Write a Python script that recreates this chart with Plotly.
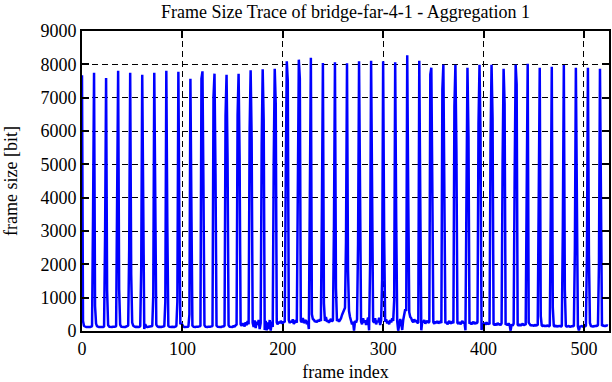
import plotly.graph_objects as go

# I-frame (every 12th frame) sizes
peak = [7670, 7750, 7590, 7810, 7750, 7690, 7750, 7810, 7780, 7570,
        7790, 7720, 7690, 7720, 7820, 7850, 7870, 8090, 8140, 8200,
        8040, 8060, 8030, 8090, 8110, 8090, 8060, 8275, 8110, 7900,
        7990, 7990, 7900, 7990, 7990, 7870, 7990, 8020, 7900, 7930,
        7980, 7900, 7900, 7870]
# frame just before each I-frame
pre = [None, 3440, 2880, 2940, 2430, 1885, 1080, 880, 880, 500,
       7570, 7020, 6450, 6490, 6070, 5590, 5085, 4680, 4740, 4230,
       3660, 3130, 2680, 2580, 1975, 1555, 920, 600, 250, 7700,
       7250, 6740, 6140, 6220, 5700, 5085, 4590, 4090, 4030, 3510,
       3010, 2460, 2300, 2025]
# frame just after each I-frame
post = [300, 750, 1220, 1250, 1705, 2215, 2740, 3210, 3280, 3630,
        4260, 4710, 5190, 5200, 5770, 6300, 6820, 7490, 7570, 500,
        830, 1280, 1835, 1890, 2340, 2880, 3360, 4060, 3910, 4280,
        4840, 5385, 5850, 5920, 6400, 6820, 7390, 250, 450, 700,
        1250, 1775, 2300, 2275]
# remaining frames of each group (frames 12k+2 .. 12k+10)
rest = [
    [150, 130, 120, 120, 130, 120, 120, 130, 140],
    [220, 140, 120, 120, 120, 130, 120, 120, 130],
    [180, 130, 120, 120, 120, 130, 120, 130, 140],
    [190, 130, 120, 130, 120, 120, 130, 140, 160],
    [250, 160, 130, 120, 130, 120, 130, 120, 140],
    [60, 200, 130, 120, 120, 130, 120, 140, 150],
    [190, 140, 120, 130, 120, 120, 130, 130, 140],
    [150, 130, 120, 120, 130, 120, 120, 130, 150],
    [200, 240, 150, 130, 120, 120, 130, 120, 130],
    [160, 130, 120, 120, 130, 120, 130, 140, 150],
    [170, 130, 120, 120, 130, 120, 130, 140, 150],
    [160, 130, 120, 130, 120, 120, 140, 130, 160],
    [170, 130, 130, 140, 120, 150, 130, 170, 190],
    [200, 160, 230, 180, 140, 260, 170, 300, 200],
    [250, 120, 320, 90, 280, 180, 330, 60, 240],
    [30, 300, 20, 260, 60, 330, 10, 280, 120],
    [260, 200, 280, 230, 300, 250, 220, 280, 260],
    [330, 240, 300, 260, 350, 210, 280, 320, 250],
    [300, 260, 390, 240, 280, 330, 200, 300, 60],
    [350, 340, 280, 300, 260, 330, 290, 350, 300],
    [300, 420, 280, 320, 250, 310, 360, 280, 330],
    [300, 350, 280, 330, 380, 480, 560, 650, 700],
    [600, 420, 330, 200, 280, 10, 300, 250, 350],
    [280, 200, 380, 260, 320, 180, 280, 400, 20],
    [300, 250, 380, 200, 300, 260, 400, 180, 320],
    [280, 350, 230, 300, 200, 330, 260, 380, 300],
    [300, 10, 280, 360, 250, 30, 330, 500, 650],
    [560, 420, 380, 300, 260, 350, 280, 320, 250],
    [20, 300, 260, 330, 220, 280, 300, 250, 270],
    [260, 220, 280, 240, 300, 230, 260, 290, 240],
    [230, 270, 200, 260, 300, 220, 250, 280, 230],
    [240, 220, 270, 200, 250, 300, 230, 260, 20],
    [220, 260, 200, 240, 280, 210, 250, 230, 260],
    [30, 220, 200, 240, 190, 260, 210, 230, 200],
    [200, 180, 220, 170, 240, 190, 210, 180, 230],
    [190, 210, 170, 230, 180, 10, 200, 160, 220],
    [180, 170, 200, 160, 190, 220, 170, 200, 180],
    [200, 160, 180, 170, 150, 190, 160, 180, 170],
    [160, 150, 170, 140, 160, 150, 170, 140, 160],
    [150, 140, 160, 130, 150, 140, 160, 130, 150],
    [150, 130, 140, 150, 130, 140, 130, 150, 140],
    [140, 20, 130, 140, 150, 130, 140, 160, 150],
    [240, 150, 140, 130, 150, 140, 160, 150, 170],
    [150, 180, 140, 160, 150, 170, 160],
]
x_ticks = [0, 100, 200, 300, 400, 500]
y_ticks = [0, 1000, 2000, 3000, 4000, 5000, 6000, 7000, 8000, 9000]

gop = 12
n_frames = gop * (len(peak) - 1) + 2 + len(rest[-1])
sizes = [0] * n_frames
for k in range(len(peak)):
    b = gop * k
    sizes[b] = peak[k]
    if pre[k] is not None:
        sizes[b - 1] = pre[k]
    sizes[b + 1] = post[k]
    for j, v in enumerate(rest[k]):
        sizes[b + 2 + j] = v
frames = list(range(n_frames))

SERIF = "Liberation Serif, Times New Roman, serif"

fig = go.Figure(go.Scatter(x=frames, y=sizes, mode="lines",
                           line=dict(color="#0000ff", width=2.5)))

axis_common = dict(showgrid=True, gridcolor="black", gridwidth=1, griddash="6px,4px",
                   showline=True, linecolor="black", linewidth=2, mirror="ticks",
                   ticks="inside", ticklen=7, tickwidth=1.5, tickcolor="black",
                   zeroline=False, automargin=False,
                   tickfont=dict(family=SERIF, size=18, color="black"))

fig.update_layout(
    width=612, height=382, autosize=False,
    margin=dict(l=82, r=3, t=31, b=51),
    plot_bgcolor="white", paper_bgcolor="white",
    font=dict(family=SERIF, size=18, color="black"),
    showlegend=False,
    title=dict(text="Frame Size Trace of bridge-far-4-1 - Aggregation 1",
               x=0.5647, xanchor="center", y=1 - 12 / 382, yanchor="middle",
               yref="container", font=dict(family=SERIF, size=18)),
    xaxis=dict(range=[0, 525], tickvals=x_ticks,
               title=dict(text="frame index", standoff=8,
                          font=dict(family=SERIF, size=18)), **axis_common),
    yaxis=dict(range=[0, 9000], tickvals=y_ticks,
               title=dict(text="frame size [bit]", standoff=18,
                          font=dict(family=SERIF, size=18)), **axis_common),
)

fig.write_html("out.html",
               config={"displayModeBar": False},
               post_script="document.body.style.margin='0';"
                           "document.body.style.overflow='hidden';"
                           "document.querySelectorAll('.js-line').forEach("
                           "function(p){p.style.strokeLinejoin='bevel';});")
